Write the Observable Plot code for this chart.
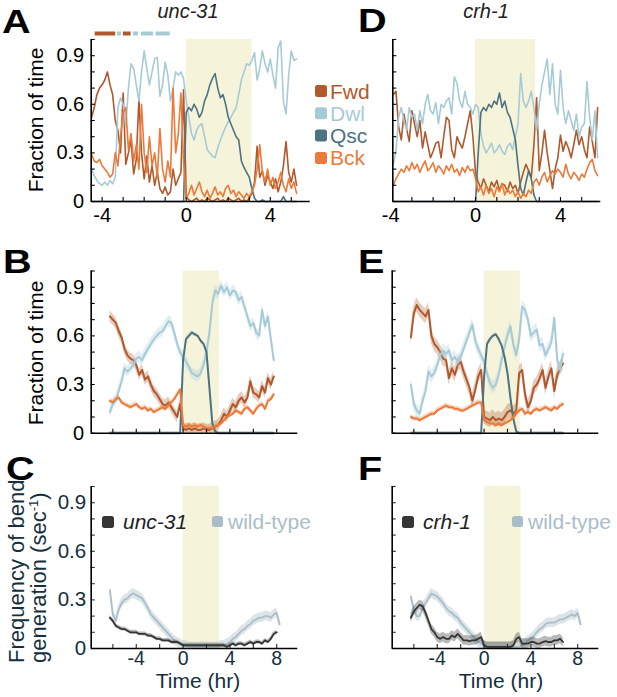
<!DOCTYPE html>
<html><head><meta charset="utf-8">
<script src="https://cdn.jsdelivr.net/npm/d3@7"></script>
<script src="https://cdn.jsdelivr.net/npm/@observablehq/plot@0.6"></script>
<style>
body{margin:0;background:#fff;font-family:"Liberation Sans",Arial,Helvetica,sans-serif;}
#fig{position:relative;width:617px;height:697px;overflow:hidden;background:#fff}
#fig svg{position:absolute}
</style></head>
<body><div id="fig"></div>
<script>
// ---------------- DATA ----------------
// Panel A (unc-31 single animal), samples every 0.125 hr starting at -4.5 hr
const tStartA = -4.5, tStepA = 0.125;
const fwdA = [0.52,0.58,0.66,0.70,0.72,0.75,0.80,0.72,0.66,0.50,0.44,0.30,0.67,0.23,0.30,0.38,0.17,0.26,0.63,0.30,0.14,0.28,0.12,0.22,0.10,0.18,0.08,0.05,0.09,0.04,0.06,0.20,0.10,0.14,0.18,0.69,0.03,0.01,0.00,0.01,0.02,0.00,0.01,0.00,0.02,0.01,0.00,0.01,0.02,0.00,0.01,0.00,0.02,0.01,0.00,0.01,0.02,0.00,0.01,0.00,0.02,0.05,0.12,0.34,0.15,0.19,0.10,0.16,0.12,0.08,0.14,0.06,0.12,0.22,0.37,0.18,0.12,0.20,0.10];
const dwlA = [0.20,0.16,0.13,0.11,0.10,0.12,0.10,0.13,0.11,0.15,0.58,0.64,0.60,0.46,0.70,0.85,0.82,0.72,0.62,0.80,0.93,0.82,0.72,0.80,0.88,0.89,0.65,0.72,0.86,0.78,0.62,0.70,0.80,0.78,0.80,0.76,0.62,0.52,0.42,0.38,0.44,0.47,0.48,0.40,0.32,0.30,0.28,0.27,0.33,0.38,0.42,0.46,0.49,0.52,0.55,0.58,0.66,0.75,0.80,0.85,0.84,0.87,0.92,0.75,0.82,0.93,0.85,0.80,0.88,0.78,0.70,0.95,0.99,0.62,0.54,0.78,0.93,0.87,0.88];
const qscA = [0,0,0,0,0,0,0,0,0,0,0,0,0,0,0,0,0,0,0,0,0,0,0,0,0,0,0,0,0,0,0,0,0,0,0,0,0.55,0.58,0.56,0.60,0.57,0.52,0.55,0.62,0.66,0.72,0.76,0.79,0.70,0.64,0.66,0.60,0.52,0.48,0.44,0.40,0.38,0.25,0.21,0.18,0.15,0.08,0.02,0.00,0.00,0.01,0.00,0.00,0.00,0.00,0.00,0.00,0.00,0.03,0.00,0.00,0.00,0.00,0.00];
const bckA = [0.29,0.25,0.24,0.26,0.22,0.20,0.18,0.15,0.17,0.30,0.22,0.40,0.55,0.58,0.32,0.42,0.25,0.35,0.20,0.60,0.30,0.18,0.40,0.22,0.30,0.15,0.45,0.20,0.12,0.25,0.15,0.70,0.30,0.42,0.67,0.25,0.02,0.05,0.10,0.04,0.08,0.12,0.06,0.03,0.07,0.02,0.05,0.09,0.04,0.06,0.03,0.08,0.10,0.05,0.07,0.03,0.06,0.04,0.02,0.05,0.03,0.06,0.10,0.20,0.35,0.18,0.12,0.20,0.10,0.15,0.08,0.12,0.18,0.10,0.06,0.14,0.08,0.12,0.05];
// Example ethogram strip above panel A
const ethoStart = [-4.33,-3.27,-2.99,-2.51,-2.13,-1.43];
const ethoEnd   = [-3.35,-3.08,-2.62,-2.27,-1.56,-0.76];
const ethoState = ["Fwd","Dwl","Fwd","Dwl","Dwl","Dwl"];

// Panel D (crh-1 single animal), every 0.125 hr from -3.875 hr
const tStartD = -3.875, tStepD = 0.125;
const fwdD = [0.66,0.68,0.46,0.38,0.54,0.45,0.37,0.56,0.48,0.40,0.50,0.33,0.43,0.35,0.27,0.31,0.36,0.37,0.27,0.40,0.52,0.50,0.32,0.27,0.40,0.36,0.33,0.40,0.48,0.56,0.40,0.17,0.12,0.08,0.14,0.10,0.06,0.12,0.09,0.13,0.07,0.11,0.10,0.06,0.12,0.08,0.10,0.05,0.12,0.18,0.23,0.19,0.15,0.35,0.64,0.19,0.30,0.44,0.30,0.19,0.08,0.20,0.27,0.41,0.31,0.37,0.33,0.27,0.35,0.44,0.35,0.40,0.32,0.27,0.46,0.37,0.27,0.58];
const dwlD = [0.23,0.31,0.52,0.58,0.50,0.44,0.58,0.52,0.54,0.44,0.56,0.48,0.60,0.66,0.56,0.54,0.61,0.48,0.60,0.58,0.62,0.64,0.54,0.77,0.73,0.62,0.58,0.68,0.60,0.58,0.54,0.60,0.58,0.42,0.34,0.30,0.33,0.36,0.30,0.32,0.35,0.31,0.29,0.34,0.36,0.32,0.40,0.48,0.79,0.62,0.58,0.62,0.68,0.58,0.44,0.60,0.72,0.80,0.88,0.66,0.85,0.60,0.54,0.81,0.58,0.48,0.56,0.50,0.44,0.54,0.40,0.46,0.48,0.74,0.52,0.38,0.56,0.27];
const qscD = [0,0,0,0,0,0,0,0,0,0,0,0,0,0,0,0,0,0,0,0,0,0,0,0,0,0,0,0,0,0,0,0,0.30,0.55,0.58,0.56,0.60,0.58,0.62,0.60,0.67,0.58,0.62,0.55,0.52,0.45,0.38,0.22,0.08,0.04,0.12,0.19,0.14,0.04,0,0,0,0,0,0,0,0,0,0,0,0,0,0,0,0,0,0,0,0,0,0,0,0];
const bckD = [0.10,0.14,0.17,0.20,0.18,0.22,0.19,0.24,0.20,0.23,0.18,0.22,0.25,0.19,0.21,0.24,0.18,0.22,0.20,0.17,0.22,0.19,0.23,0.18,0.20,0.16,0.21,0.18,0.22,0.19,0.20,0.14,0.06,0.09,0.04,0.10,0.05,0.08,0.03,0.09,0.06,0.11,0.04,0.08,0.05,0.07,0.03,0.06,0.02,0.05,0.03,0.07,0.05,0.12,0.14,0.10,0.15,0.18,0.12,0.16,0.19,0.17,0.20,0.18,0.15,0.23,0.17,0.14,0.18,0.16,0.13,0.17,0.15,0.20,0.24,0.26,0.19,0.16];

// Panels B, C, E, F: population averages, every 0.25 hr from -6.25 hr
const tStartPop = -6.25, tStepPop = 0.25;
const fwdB = [0.72,0.70,0.68,0.63,0.59,0.52,0.48,0.46,0.45,0.42,0.36,0.39,0.33,0.35,0.30,0.26,0.24,0.21,0.18,0.17,0.19,0.16,0.13,0.10,0.18,0.03,0.02,0.03,0.02,0.03,0.02,0.02,0.03,0.02,0.02,0.03,0.04,0.05,0.08,0.12,0.10,0.14,0.18,0.16,0.20,0.22,0.19,0.22,0.32,0.25,0.24,0.22,0.29,0.25,0.34,0.30,0.35];
const dwlB = [0.13,0.18,0.20,0.26,0.32,0.40,0.38,0.40,0.42,0.46,0.47,0.45,0.49,0.52,0.55,0.58,0.60,0.62,0.63,0.66,0.69,0.68,0.62,0.55,0.50,0.47,0.44,0.41,0.37,0.36,0.35,0.37,0.42,0.50,0.62,0.80,0.88,0.86,0.91,0.87,0.90,0.85,0.88,0.87,0.82,0.84,0.78,0.72,0.66,0.68,0.62,0.60,0.76,0.66,0.72,0.58,0.45];
const qscB = [0,0,0,0,0,0,0,0,0,0,0,0,0,0,0,0,0,0,0,0,0,0,0,0,0,0.45,0.58,0.60,0.62,0.61,0.60,0.57,0.55,0.50,0.28,0.06,0.01,0,0,0,0,0,0,0,0,0,0,0,0,0,0,0,0,0,0,0,0];
const bckB = [0.20,0.19,0.21,0.22,0.19,0.18,0.17,0.16,0.17,0.18,0.16,0.15,0.16,0.14,0.15,0.13,0.14,0.15,0.16,0.15,0.17,0.19,0.21,0.24,0.27,0.05,0.04,0.05,0.04,0.05,0.04,0.05,0.04,0.03,0.03,0.03,0.04,0.05,0.06,0.08,0.10,0.11,0.12,0.14,0.13,0.12,0.15,0.16,0.14,0.12,0.15,0.17,0.18,0.15,0.20,0.21,0.24];
const semB = {Fwd: 0.035, Dwl: 0.035, Qsc: 0.01, Bck: 0.015};

const fwdE = [0.59,0.74,0.79,0.76,0.74,0.72,0.76,0.60,0.55,0.53,0.50,0.46,0.45,0.34,0.40,0.36,0.42,0.44,0.38,0.33,0.28,0.20,0.27,0.35,0.39,0.10,0.09,0.08,0.10,0.08,0.09,0.08,0.10,0.13,0.14,0.12,0.14,0.37,0.39,0.24,0.16,0.20,0.28,0.30,0.34,0.39,0.28,0.35,0.40,0.26,0.36,0.40,0.43];
const dwlE = [0.30,0.18,0.14,0.12,0.20,0.26,0.38,0.35,0.37,0.42,0.48,0.51,0.49,0.51,0.45,0.47,0.44,0.47,0.52,0.57,0.62,0.67,0.57,0.52,0.48,0.44,0.37,0.31,0.28,0.30,0.36,0.45,0.53,0.60,0.66,0.55,0.48,0.58,0.78,0.76,0.70,0.60,0.62,0.64,0.54,0.55,0.48,0.52,0.56,0.71,0.45,0.39,0.49];
const qscE = [0,0,0,0,0,0,0,0,0,0,0,0,0,0,0,0,0,0,0,0,0,0,0,0,0,0.35,0.55,0.58,0.60,0.61,0.58,0.54,0.47,0.37,0.22,0.09,0.01,0,0,0,0,0,0,0,0,0,0,0,0,0,0,0,0];
const bckE = [0.10,0.09,0.09,0.08,0.09,0.10,0.11,0.12,0.12,0.14,0.15,0.16,0.17,0.16,0.16,0.15,0.15,0.14,0.14,0.15,0.16,0.17,0.18,0.19,0.19,0.08,0.07,0.06,0.06,0.05,0.06,0.05,0.06,0.07,0.08,0.10,0.12,0.14,0.15,0.12,0.13,0.12,0.14,0.15,0.14,0.15,0.16,0.15,0.14,0.16,0.15,0.17,0.18];
const semE = {Fwd: 0.045, Dwl: 0.04, Qsc: 0.01, Bck: 0.015};

const wtC  = [0.36,0.21,0.17,0.24,0.28,0.30,0.31,0.33,0.34,0.33,0.32,0.31,0.28,0.25,0.21,0.19,0.17,0.15,0.13,0.11,0.09,0.07,0.05,0.04,0.03,0.02,0.02,0.01,0.01,0.01,0.01,0.01,0.01,0.01,0.01,0.01,0.01,0.01,0.02,0.02,0.03,0.04,0.06,0.07,0.09,0.11,0.12,0.14,0.15,0.17,0.18,0.19,0.19,0.20,0.20,0.19,0.21,0.22,0.15];
const uncC = [0.19,0.17,0.14,0.13,0.12,0.12,0.11,0.10,0.10,0.10,0.09,0.09,0.09,0.08,0.08,0.07,0.06,0.06,0.05,0.05,0.05,0.04,0.04,0.04,0.03,0.02,0.02,0.02,0.02,0.02,0.02,0.02,0.02,0.02,0.02,0.02,0.02,0.02,0.02,0.02,0.01,0.02,0.03,0.02,0.03,0.03,0.02,0.03,0.04,0.03,0.04,0.04,0.03,0.05,0.04,0.06,0.09,0.10];
const wtF  = [0.32,0.24,0.20,0.20,0.25,0.28,0.31,0.34,0.33,0.32,0.30,0.28,0.25,0.23,0.22,0.20,0.19,0.16,0.14,0.12,0.10,0.08,0.06,0.04,0.03,0.02,0.01,0.01,0.01,0.01,0.01,0.01,0.01,0.01,0.01,0.01,0.01,0.01,0.02,0.03,0.05,0.06,0.08,0.10,0.12,0.13,0.15,0.16,0.16,0.16,0.17,0.18,0.18,0.19,0.20,0.21,0.20,0.22,0.15];
const crhF = [0.19,0.23,0.25,0.27,0.26,0.22,0.17,0.12,0.10,0.07,0.06,0.07,0.06,0.06,0.08,0.07,0.09,0.07,0.05,0.05,0.045,0.05,0.05,0.06,0.07,0.02,0.01,0.01,0.01,0.01,0.01,0.01,0.01,0.01,0.01,0.02,0.06,0.07,0.03,0.03,0.03,0.04,0.04,0.03,0.03,0.04,0.045,0.04,0.04,0.05,0.05,0.06,0.04];
const semWT = 0.03, semUnc = 0.012, semCrh = 0.03;

// Light-on periods (hr)
const lightA = [0, 3.13], lightD = [0, 2.83], lightPop = [0, 3.1], lightCrh = [0.05, 3.15];

// Axes
const xDomainA = [-4.52, 5.9], xDomainD = [-3.9, 5.9], xDomainPop = [-7.85, 9.8];
const yTickLabels = [0, 0.3, 0.6, 0.9];
const xTickLabelsAD = [-4, 0, 4], xTickLabelsPop = [-4, 0, 4, 8];
const states = ["Fwd", "Dwl", "Qsc", "Bck"];

// ---------------- STYLE ----------------
const FONT = '"Liberation Sans", Arial, Helvetica, sans-serif';
const COLORS = {Fwd: "#b0592c", Dwl: "#a6cbd7", Qsc: "#4d7282", Bck: "#ec7a3b"};
const SHADE = "#f5f4da";
const MUT = "#363636", WT = "#a9bec8";
const NAVY = "#14303c";
const fig = document.getElementById("fig");

function seq(t0, step, vals) { return vals.map((v, i) => ({t: t0 + i * step, v})); }

function panel(o) {
  const marks = [Plot.rect([o.light], {x1: d => d[0], x2: d => d[1], fill: SHADE})];
  if (o.etho) {
    marks.push(Plot.ruleY(o.etho, {x1: "s", x2: "e", y: () => 1, dy: -6, stroke: d => COLORS[d.k], strokeWidth: 4}));
  }
  for (const s of o.series) {
    const data = seq(o.t0, o.step, s.values);
    if (s.sem != null) {
      marks.push(Plot.areaY(data, {x: "t", y1: d => Math.max(0, d.v - s.sem), y2: d => d.v + s.sem,
        fill: s.color, fillOpacity: s.bandOpacity ?? 0.3}));
    }
    marks.push(Plot.line(data, {x: "t", y: "v", stroke: s.color, strokeWidth: s.width ?? 1.6}));
  }
  marks.push(Plot.axisY({interval: 0.1, tickSize: -4, tickFormat: () => "", strokeWidth: 1.1, label: null}));
  marks.push(Plot.axisX({interval: o.xMinor, tickSize: -4, tickFormat: () => "", strokeWidth: 1.1, label: null}));
  if (o.yLabels) marks.push(Plot.axisY({ticks: yTickLabels, tickSize: 0, tickPadding: o.yPad ?? 7, fontSize: o.yFont ?? 20, tickFormat: d => String(d), label: null}));
  if (o.xLabels) marks.push(Plot.axisX({ticks: o.xLabels, tickSize: 0, tickPadding: o.xPad ?? 6, fontSize: o.xFont ?? 20, tickFormat: d => String(d), label: null}));
  marks.push(Plot.ruleX([o.xd[0]], {stroke: "#000", strokeWidth: 1.6}));
  marks.push(Plot.ruleY([0], {stroke: "#000", strokeWidth: 1.6}));
  const svg = Plot.plot({
    width: o.w, height: o.h,
    marginLeft: o.ml, marginRight: o.mr, marginTop: o.mt, marginBottom: o.mb,
    x: {domain: o.xd, label: null}, y: {domain: [0, 1], label: null},
    style: {background: "transparent", fontFamily: FONT, overflow: "visible", color: o.textColor ?? "#000"},
    marks
  });
  svg.style.position = "absolute";
  svg.style.left = o.left + "px";
  svg.style.top = o.top + "px";
  svg.style.maxWidth = "none";
  fig.appendChild(svg);
}

const ethoData = ethoStart.map((s, i) => ({s, e: ethoEnd[i], k: ethoState[i]}));
const stateSeries = (vals, sem) => states.map((k, i) => ({values: vals[i], color: COLORS[k], sem: sem ? sem[k] : null, width: sem ? 2 : 1.6}));

// A
panel({left: 0, top: 0, w: 312, h: 232, ml: 90.7, mr: 2.3, mt: 39, mb: 31,
  xd: xDomainA, light: lightA, t0: tStartA, step: tStepA, xMinor: 1,
  series: stateSeries([fwdA, dwlA, qscA, bckA]), etho: ethoData, yLabels: true, xLabels: xTickLabelsAD});
// D
panel({left: 300, top: 0, w: 312, h: 232, ml: 92.3, mr: 11.7, mt: 39, mb: 31,
  xd: xDomainD, light: lightD, t0: tStartD, step: tStepD, xMinor: 1,
  series: stateSeries([fwdD, dwlD, qscD, bckD]), yLabels: false, xLabels: xTickLabelsAD});
// B
panel({left: 0, top: 230, w: 300, h: 228, ml: 90.7, mr: 2.7, mt: 40.5, mb: 25.3,
  xd: xDomainPop, light: lightPop, t0: tStartPop, step: tStepPop, xMinor: 2,
  series: stateSeries([fwdB, dwlB, qscB, bckB], semB), yLabels: true, xLabels: null});
// E
panel({left: 300, top: 230, w: 312, h: 228, ml: 91.7, mr: 13.7, mt: 40.5, mb: 25.3,
  xd: xDomainPop, light: lightPop, t0: tStartPop, step: tStepPop, xMinor: 2,
  series: stateSeries([fwdE, dwlE, qscE, bckE], semE), yLabels: false, xLabels: null});
// C
panel({left: 0, top: 440, w: 300, h: 257, ml: 90.7, mr: 2.7, mt: 46, mb: 49,
  xd: xDomainPop, light: lightPop, t0: tStartPop, step: tStepPop, xMinor: 2, yPad: 5, xPad: 3, yFont: 20.5, xFont: 19.5, textColor: NAVY,
  series: [{values: wtC, color: WT, sem: semWT, bandOpacity: 0.4, width: 1.8}, {values: uncC, color: MUT, sem: semUnc, bandOpacity: 0.35, width: 1.8}],
  yLabels: true, xLabels: xTickLabelsPop});
// F
panel({left: 300, top: 440, w: 312, h: 257, ml: 91.7, mr: 13.7, mt: 46, mb: 49,
  xd: xDomainPop, light: lightCrh, t0: tStartPop, step: tStepPop, xMinor: 2, xPad: 3, xFont: 19.5, textColor: NAVY,
  series: [{values: wtF, color: WT, sem: semWT, bandOpacity: 0.4, width: 1.8}, {values: crhF, color: MUT, sem: semCrh, bandOpacity: 0.35, width: 1.8}],
  yLabels: false, xLabels: xTickLabelsPop});

// ---------------- TEXT OVERLAY ----------------
const ov = d3.select(fig).append("svg").attr("width", 617).attr("height", 697)
  .style("left", "0px").style("top", "0px").style("pointer-events", "none")
  .attr("font-family", FONT);
function txt(x, y, s, o = {}) {
  const t = ov.append("text").attr("x", x).attr("y", y).text(s)
    .attr("font-size", o.size ?? 21).attr("fill", o.fill ?? "#000")
    .attr("text-anchor", o.anchor ?? "start");
  if (o.bold) t.attr("font-weight", "bold");
  if (o.italic) t.attr("font-style", "italic");
  if (o.transform) t.attr("transform", o.transform).attr("x", null).attr("y", null);
  return t;
}
// panel letters
[["A", 2, 33], ["D", 358, 32], ["B", 3, 273], ["E", 358, 273], ["C", 6, 480], ["F", 358, 480]].forEach(([l, x, y]) => {
  txt(0, 0, l, {size: 33, bold: true, transform: `translate(${x},${y}) scale(1.2,1)`});
});
// titles
txt(188, 18, "unc-31", {size: 20, italic: true, anchor: "middle", fill: "#222"});
txt(486, 18, "crh-1", {size: 20, italic: true, anchor: "middle", fill: "#222"});
// y labels
txt(0, 0, "Fraction of time", {anchor: "middle", transform: "translate(43,120) rotate(-90)"});
txt(0, 0, "Fraction of time", {anchor: "middle", transform: "translate(43,353) rotate(-90)"});
txt(0, 0, "Frequency of bend", {size: 22, fill: NAVY, transform: "translate(24,663) rotate(-90)"});
const g2 = txt(0, 0, "generation (sec", {size: 22, fill: NAVY, transform: "translate(46,663) rotate(-90)"});
g2.append("tspan").attr("font-size", 13).attr("dy", -8).text("-1");
g2.append("tspan").attr("dy", 8).text(")");
// x labels
txt(198, 688, "Time (hr)", {anchor: "middle", fill: NAVY});
txt(501, 688, "Time (hr)", {anchor: "middle", fill: NAVY});
// state legend
states.forEach((k, i) => {
  const cy = 91 + i * 22.3;
  ov.append("rect").attr("x", 315).attr("y", cy - 6).attr("width", 12).attr("height", 12).attr("rx", 2.5).attr("fill", COLORS[k]);
  txt(330, cy + 7.5, k, {fill: COLORS[k]});
});
// genotype legends
function geno(x, label, xw) {
  ov.append("rect").attr("x", x).attr("y", 516).attr("width", 12).attr("height", 12).attr("rx", 2.5).attr("fill", MUT);
  txt(x + 21, 529, label, {italic: true, fill: "#222"});
  ov.append("rect").attr("x", xw).attr("y", 516).attr("width", 11).attr("height", 11).attr("rx", 2.5).attr("fill", WT);
  txt(xw + 16, 529, "wild-type", {fill: WT});
}
geno(102, "unc-31", 212);
geno(402, "crh-1", 512);
</script>
</body></html>
